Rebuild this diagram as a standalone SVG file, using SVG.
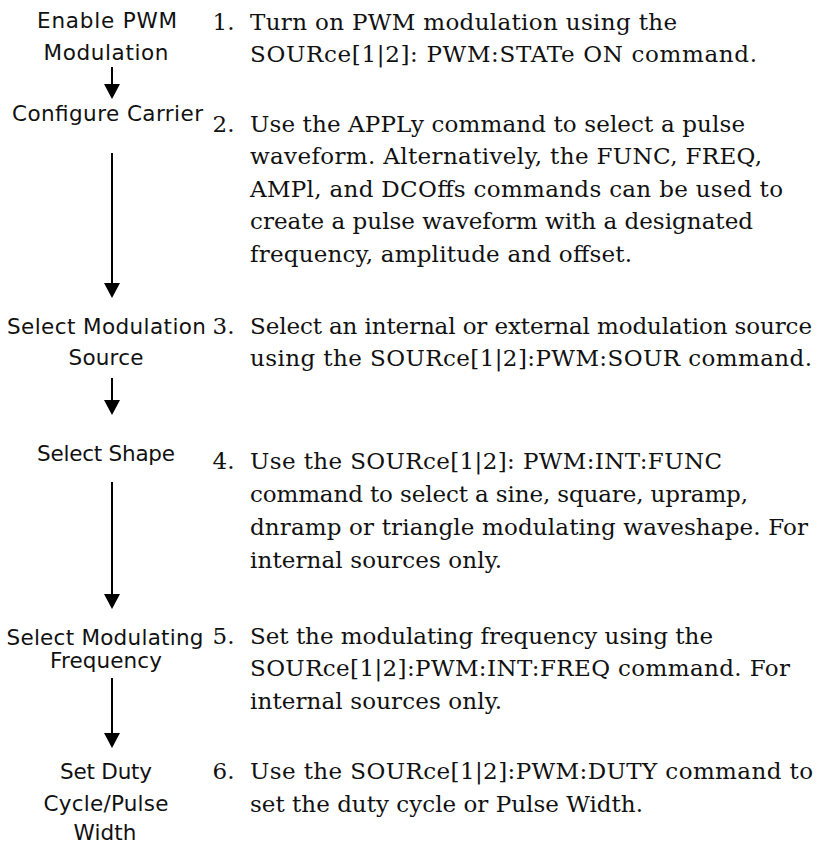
<svg xmlns="http://www.w3.org/2000/svg" width="822" height="846" viewBox="0 0 822 846">
<style>
.lbl{font-family:"DejaVu Sans","Open Sans",sans-serif;font-size:21.5px;fill:#111;text-anchor:middle}
.num,.txt{font-family:"DejaVu Serif","Liberation Serif",serif;font-size:23px;fill:#111}
.conn{stroke:#000;stroke-width:2;fill:none}
</style>
<defs>
<marker id="ah" viewBox="0 0 15 16" refX="0" refY="8" markerWidth="15" markerHeight="16" markerUnits="userSpaceOnUse" orient="auto">
<path d="M0,0 L15,8 L0,16 z" fill="#000"/>
</marker>
</defs>
<rect width="822" height="846" fill="#fff"/>
<g id="connectors">
<line class="conn" x1="112" y1="67" x2="112" y2="84" marker-end="url(#ah)"/>
<line class="conn" x1="112" y1="153" x2="112" y2="283" marker-end="url(#ah)"/>
<line class="conn" x1="112" y1="378" x2="112" y2="400" marker-end="url(#ah)"/>
<line class="conn" x1="112" y1="482" x2="112" y2="594" marker-end="url(#ah)"/>
<line class="conn" x1="112" y1="678" x2="112" y2="733" marker-end="url(#ah)"/>
</g>
<g id="step1">
<text class="lbl" x="107" y="28" textLength="140" lengthAdjust="spacing">Enable PWM</text>
<text class="lbl" x="106" y="60" textLength="125" lengthAdjust="spacing">Modulation</text>
<text class="num" x="212.5" y="29.5">1.</text>
<text class="txt" x="250" y="29.5" textLength="427" lengthAdjust="spacing">Turn on PWM modulation using the</text>
<text class="txt" x="250" y="62" textLength="507" lengthAdjust="spacing">SOURce[1|2]: PWM:STATe ON command.</text>
</g>
<g id="step2">
<text class="lbl" x="107.5" y="121" textLength="191" lengthAdjust="spacing">Configure Carrier</text>
<text class="num" x="212.5" y="131.5">2.</text>
<text class="txt" x="250" y="131.5" textLength="495" lengthAdjust="spacing">Use the APPLy command to select a pulse</text>
<text class="txt" x="250" y="164" textLength="512" lengthAdjust="spacing">waveform. Alternatively, the FUNC, FREQ,</text>
<text class="txt" x="250" y="196.5" textLength="533" lengthAdjust="spacing">AMPl, and DCOffs commands can be used to</text>
<text class="txt" x="250" y="229" textLength="503" lengthAdjust="spacing">create a pulse waveform with a designated</text>
<text class="txt" x="250" y="261.5" textLength="382" lengthAdjust="spacing">frequency, amplitude and offset.</text>
</g>
<g id="step3">
<text class="lbl" x="106.5" y="333.5" textLength="199" lengthAdjust="spacing">Select Modulation</text>
<text class="lbl" x="106" y="365" textLength="75" lengthAdjust="spacing">Source</text>
<text class="num" x="212.5" y="333.5">3.</text>
<text class="txt" x="250" y="333.5" textLength="562" lengthAdjust="spacing">Select an internal or external modulation source</text>
<text class="txt" x="250" y="366" textLength="562" lengthAdjust="spacing">using the SOURce[1|2]:PWM:SOUR command.</text>
</g>
<g id="step4">
<text class="lbl" x="106" y="461" textLength="138" lengthAdjust="spacing">Select Shape</text>
<text class="num" x="212.5" y="469">4.</text>
<text class="txt" x="250" y="469" textLength="472" lengthAdjust="spacing">Use the SOURce[1|2]: PWM:INT:FUNC</text>
<text class="txt" x="250" y="502" textLength="498" lengthAdjust="spacing">command to select a sine, square, upramp,</text>
<text class="txt" x="250" y="535" textLength="558" lengthAdjust="spacing">dnramp or triangle modulating waveshape. For</text>
<text class="txt" x="250" y="568" textLength="252" lengthAdjust="spacing">internal sources only.</text>
</g>
<g id="step5">
<text class="lbl" x="105" y="645" textLength="197" lengthAdjust="spacing">Select Modulating</text>
<text class="lbl" x="106" y="668" textLength="112" lengthAdjust="spacing">Frequency</text>
<text class="num" x="212.5" y="643.5">5.</text>
<text class="txt" x="250" y="643.5" textLength="463" lengthAdjust="spacing">Set the modulating frequency using the</text>
<text class="txt" x="250" y="676" textLength="540" lengthAdjust="spacing">SOURce[1|2]:PWM:INT:FREQ command. For</text>
<text class="txt" x="250" y="708.5" textLength="252" lengthAdjust="spacing">internal sources only.</text>
</g>
<g id="step6">
<text class="lbl" x="106" y="779" textLength="92" lengthAdjust="spacing">Set Duty</text>
<text class="lbl" x="106" y="811" textLength="125" lengthAdjust="spacing">Cycle/Pulse</text>
<text class="lbl" x="105" y="840" textLength="63" lengthAdjust="spacing">Width</text>
<text class="num" x="212.5" y="778.5">6.</text>
<text class="txt" x="250" y="778.5" textLength="563" lengthAdjust="spacing">Use the SOURce[1|2]:PWM:DUTY command to</text>
<text class="txt" x="250" y="811.5" textLength="393" lengthAdjust="spacing">set the duty cycle or Pulse Width.</text>
</g>
</svg>
